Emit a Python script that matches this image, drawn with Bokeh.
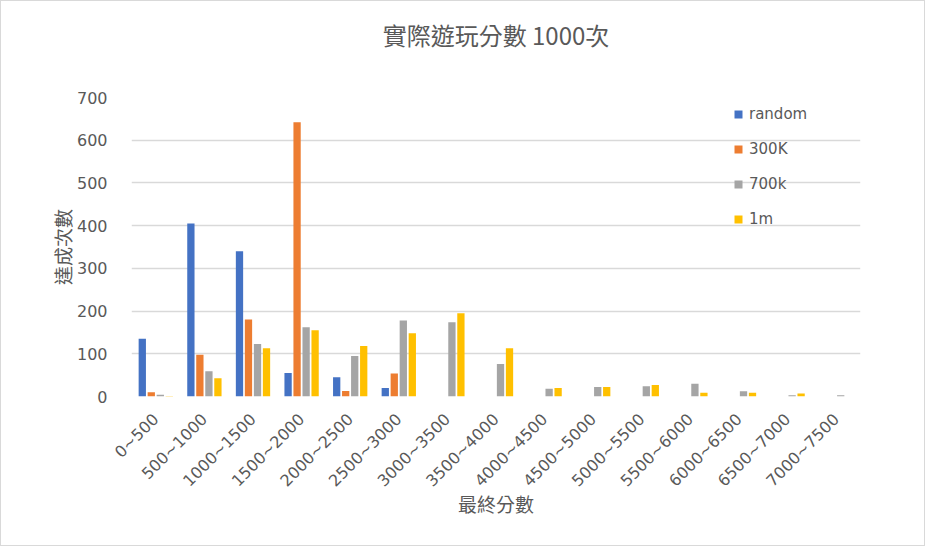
from bokeh.plotting import figure
from bokeh.models import ColumnDataSource, FactorRange, Range1d, FixedTicker, Legend, LegendItem
from bokeh.transform import dodge
from bokeh.embed import file_html
from bokeh.resources import INLINE

# Score buckets and the number of games (out of 1000) that ended in each bucket
categories = ["0~500", "500~1000", "1000~1500", "1500~2000", "2000~2500",
              "2500~3000", "3000~3500", "3500~4000", "4000~4500", "4500~5000",
              "5000~5500", "5500~6000", "6000~6500", "6500~7000", "7000~7500"]
random_counts = [135, 405, 340, 55, 45, 20, 0, 0, 0, 0, 0, 0, 0, 0, 0]
k300_counts = [10, 98, 180, 642, 13, 54, 0, 0, 0, 0, 0, 0, 0, 0, 0]
k700_counts = [4, 59, 123, 162, 95, 178, 174, 76, 18, 22, 24, 30, 12, 3, 3]
m1_counts = [1, 43, 113, 155, 118, 148, 195, 113, 20, 22, 27, 9, 9, 7, 0]

series_names = ["random", "300K", "700k", "1m"]
series_cols = ["random", "k300", "k700", "m1"]
colors = ["#4472C4", "#ED7D31", "#A5A5A5", "#FFC000"]
offsets = [-0.278, -0.093, 0.093, 0.278]
y_ticks = [0, 100, 200, 300, 400, 500, 600, 700]
chart_title = "實際遊玩分數 1000次"

source = ColumnDataSource(data=dict(
    cat=categories,
    random=random_counts,
    k300=k300_counts,
    k700=k700_counts,
    m1=m1_counts,
))

TEXT = "#595959"
CJK = "Noto Sans CJK TC"
LATIN = "DejaVu Sans"

p = figure(
    width=925, height=546,
    x_range=FactorRange(*categories),
    y_range=Range1d(0, 700),
    output_backend="svg",
    toolbar_location=None,
    min_border_left=130, min_border_right=66,
    min_border_top=96, min_border_bottom=151,
    # the blank second line lifts the title away from the plot area
    title=chart_title + "\n",
)
p.styles = {"border": "1px solid #d9d9d9"}

p.title.align = "center"
p.title.offset = -30
p.title.text_font = CJK
p.title.text_font_size = "24px"
p.title.text_font_style = "normal"
p.title.text_color = TEXT
p.title.standoff = 22

items = []
for col, name, color, off in zip(series_cols, series_names, colors, offsets):
    r = p.vbar(x=dodge("cat", off, range=p.x_range), top=col, width=0.15,
               source=source, fill_color=color, line_color=None)
    items.append(LegendItem(label=name, renderers=[r]))

legend = Legend(items=items, location=(602, 167))
legend.background_fill_alpha = 0
legend.border_line_alpha = 0
legend.padding = 0
legend.margin = 0
legend.spacing = 15
legend.glyph_width = 10
legend.glyph_height = 10
legend.label_height = 20
legend.label_standoff = 6
legend.label_text_font = LATIN
legend.label_text_font_size = "15px"
legend.label_text_color = TEXT
p.add_layout(legend, "center")

# grid
p.xgrid.grid_line_color = None
p.ygrid.grid_line_color = "#d9d9d9"
p.ygrid.grid_line_width = 1.5
p.yaxis.ticker = FixedTicker(ticks=y_ticks)
p.outline_line_color = None

for ax in (p.xaxis, p.yaxis):
    ax.axis_line_color = None
    ax.major_tick_line_color = None
    ax.minor_tick_line_color = None
    ax.major_label_text_font = LATIN
    ax.major_label_text_font_size = "16px"
    ax.major_label_text_color = TEXT
    ax.axis_label_text_font = CJK
    ax.axis_label_text_font_size = "19px"
    ax.axis_label_text_font_style = "normal"
    ax.axis_label_text_color = TEXT

p.yaxis.axis_label = "達成次數"
p.yaxis.major_label_standoff = 18
p.yaxis.axis_label_standoff = -2

p.xaxis.axis_label = "最終分數"
p.xaxis.major_label_orientation = 0.785
p.xaxis.major_label_standoff = 14
p.xaxis.axis_label_standoff = -10
p.xaxis.group_text_font_size = "0px"

open("out.html", "w").write(file_html(p, INLINE))
